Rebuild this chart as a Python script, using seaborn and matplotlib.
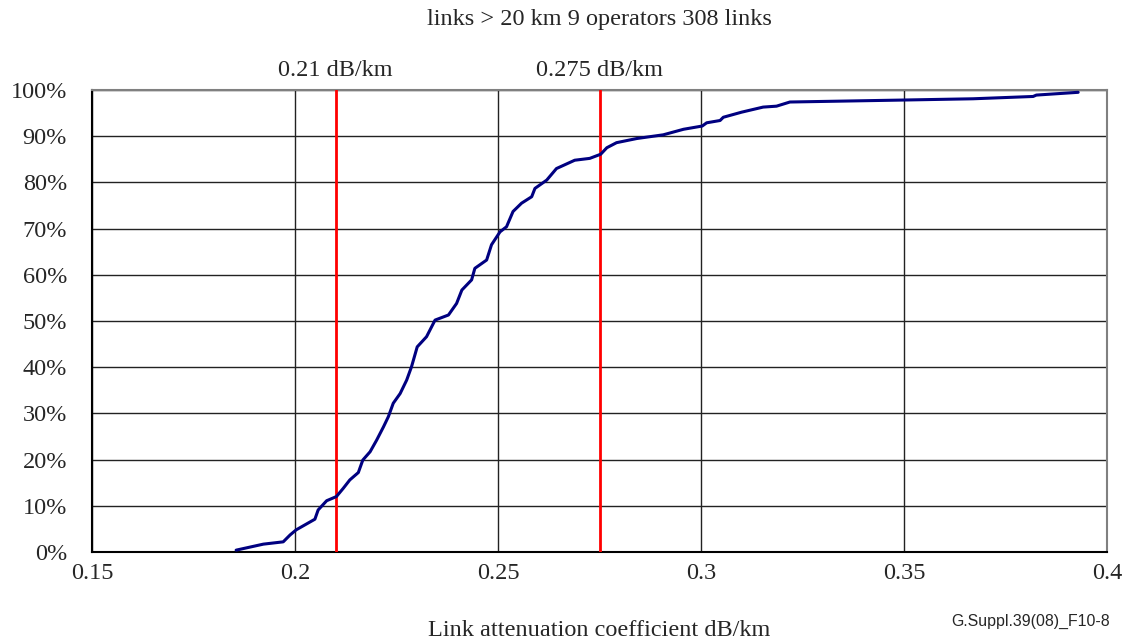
import pandas as pd
import numpy as np
import matplotlib
matplotlib.use('Agg')
import matplotlib.pyplot as plt
import seaborn as sns
from matplotlib.ticker import MultipleLocator, FuncFormatter

# cumulative distribution of link attenuation
atten = [0.1855, 0.1922, 0.1971, 0.1988, 0.2003, 0.2029, 0.2049, 0.2057, 0.2078, 0.2102,
         0.2119, 0.2135, 0.2156, 0.2167, 0.2185, 0.2201, 0.2218, 0.2230, 0.2242, 0.2259,
         0.2275, 0.2287, 0.2301, 0.2324, 0.2345, 0.2378, 0.2398, 0.2411, 0.2435, 0.2443,
         0.2472, 0.2484, 0.2505, 0.2521, 0.2537, 0.2558, 0.2583, 0.2591, 0.2620, 0.2644,
         0.2689, 0.2726, 0.2753, 0.2768, 0.2792, 0.2842, 0.2907, 0.2957, 0.3003, 0.3014,
         0.3047, 0.3055, 0.3100, 0.3153, 0.3186, 0.3219, 0.3481, 0.3670, 0.3818, 0.3826,
         0.3929]
cum_pct = [0.4, 1.7, 2.2, 3.7, 4.8, 6.1, 7.1, 9.1, 11.1, 12.0,
           13.8, 15.6, 17.2, 19.9, 21.7, 24.2, 27.1, 29.3, 32.2, 34.3,
           37.2, 40.1, 44.4, 46.6, 50.2, 51.3, 53.8, 56.7, 58.9, 61.4,
           63.2, 66.5, 69.3, 70.4, 73.7, 75.5, 76.9, 78.7, 80.5, 83.0,
           84.8, 85.2, 86.1, 87.5, 88.6, 89.5, 90.3, 91.5, 92.2, 92.9,
           93.4, 94.1, 95.2, 96.3, 96.5, 97.4, 97.8, 98.1, 98.6, 98.9,
           99.5]

limits = [0.21, 0.275]
limit_labels = ['0.21 dB/km', '0.275 dB/km']

df = pd.DataFrame({'atten': atten, 'pct': cum_pct})

sns.set_style('white')
plt.rcParams['font.family'] = ['Liberation Serif', 'DejaVu Serif']
FS = 17.5

fig = plt.figure(figsize=(11.27, 6.39), dpi=100)
ax = fig.add_axes([92/1127, 1-552/639, (1107-92)/1127, (552-90)/639])

ax.set_xlim(0.15, 0.4)
ax.set_ylim(0, 100)
ax.xaxis.set_major_locator(MultipleLocator(0.05))
ax.yaxis.set_major_locator(MultipleLocator(10))
ax.xaxis.set_major_formatter(FuncFormatter(lambda v, p: ('%.2f' % v).rstrip('0')))
ax.yaxis.set_major_formatter(FuncFormatter(lambda v, p: '%d%%' % round(v)))

ax.grid(True, color='#222222', linewidth=1.0)
ax.set_axisbelow(True)

for v in limits:
    ax.axvline(v, color='#ff0000', linewidth=2.0, zorder=3)

sns.lineplot(data=df, x='atten', y='pct', estimator=None, sort=False,
             color='#000080', linewidth=2.2, ax=ax, zorder=4)

for v, lab in zip(limits, limit_labels):
    ax.text(v, 104.3, lab, ha='center', va='center', fontsize=FS, clip_on=False)

fig.text(599/1127, 1-20/639, 'links > 20 km 9 operators 308 links', ha='center', va='center', fontsize=FS)

ax.set_xlabel('Link attenuation coefficient dB/km', fontsize=FS, va='top')
ax.xaxis.set_label_coords(0.5, -(620-552)/462)
ax.set_ylabel('')
ax.tick_params(axis='both', labelsize=FS, direction='out', length=5, width=1.5, color='black')
ax.tick_params(axis='x', pad=3)
ax.tick_params(axis='y', pad=13)

for s in ['left', 'bottom']:
    ax.spines[s].set_color('black')
    ax.spines[s].set_linewidth(1.5)
for s in ['top', 'right']:
    ax.spines[s].set_color('#808080')
    ax.spines[s].set_linewidth(1.5)

fig.text(1110/1127, 1-621/639, 'G.Suppl.39(08)_F10-8', ha='right', va='center',
         fontsize=11.4, family=['Liberation Sans', 'DejaVu Sans'])

fig.savefig('out.png', dpi=100)
